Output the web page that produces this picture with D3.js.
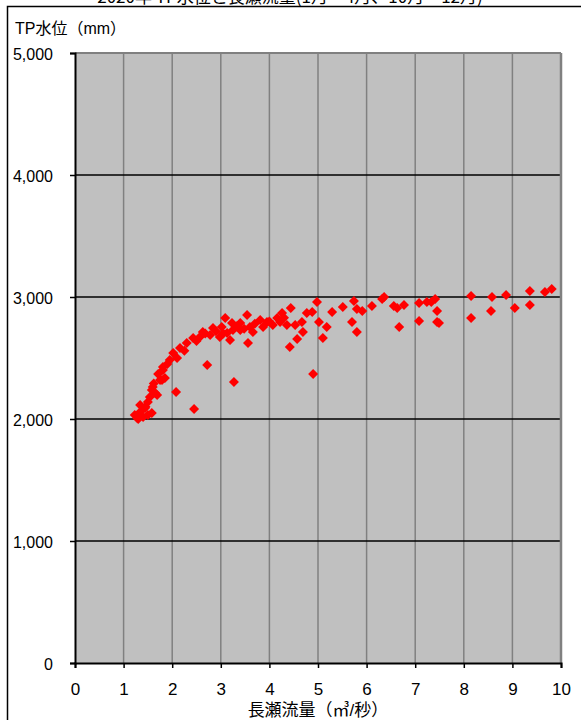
<!DOCTYPE html>
<html>
<head>
<meta charset="utf-8">
<script src="https://cdn.jsdelivr.net/npm/d3@7"></script>
<style>
  body { margin: 0; background: #fff; }
  svg { display: block; }
  text { font-family: "Liberation Sans", "Noto Sans CJK JP", sans-serif; fill: #000; }
</style>
</head>
<body>
<svg width="581" height="720"></svg>
<script>
// 長瀬流量 (m3/s) vs TP水位 (mm)
var flow = [
  1.23, 1.28, 1.30, 1.34, 1.34, 1.40, 1.44, 1.50, 1.50, 1.54, 1.58, 1.58, 1.60, 1.65, 1.69,
  1.71, 1.75, 1.79, 1.81, 1.81, 1.85, 1.95, 2.02, 2.08, 2.16, 2.30, 2.43, 2.45, 2.57, 2.63,
  2.72, 2.78, 2.84, 2.98, 3.02, 3.09, 3.13, 3.19, 3.23, 3.25, 3.27, 3.40, 3.40, 3.54, 3.56,
  3.60, 3.66, 3.81, 3.87, 3.95, 4.07, 4.16, 4.22, 4.26, 4.36, 4.42, 4.44, 4.53, 4.57, 4.67,
  4.69, 4.77, 4.88, 4.90, 4.98, 5.02, 5.10, 5.18, 5.29, 5.51, 5.70, 5.74, 5.80, 5.80, 5.91,
  6.11, 6.32, 6.36, 6.56, 6.63, 6.67, 6.77, 7.08, 7.08, 7.24, 7.33, 7.41, 7.45, 7.45, 7.49,
  8.15, 8.15, 8.56, 8.58, 8.87, 9.05, 9.36, 9.36, 9.67, 9.81,
  1.45, 1.62, 1.90, 2.10, 2.25, 2.50, 2.68, 2.90, 3.05, 3.33, 3.48, 3.70, 4.00, 4.30
];
var level = [
  2033, 2008, 2000, 2057, 2115, 2016, 2090, 2033, 2139, 2180, 2049, 2238, 2262, 2213, 2197,
  2369, 2320, 2320, 2402, 2426, 2336, 2484, 2541, 2221, 2582, 2623, 2664, 2082, 2672, 2713,
  2443, 2689, 2746, 2672, 2754, 2828, 2705, 2648, 2787, 2730, 2303, 2787, 2730, 2852, 2623,
  2754, 2713, 2811, 2754, 2795, 2770, 2828, 2795, 2869, 2770, 2590, 2910, 2770, 2656, 2795,
  2713, 2869, 2877, 2369, 2959, 2795, 2664, 2754, 2877, 2918, 2795, 2967, 2902, 2713, 2885,
  2926, 2984, 3000, 2926, 2910, 2754, 2934, 2951, 2803, 2959, 2959, 2984, 2885, 2795, 2787,
  3008, 2828, 2885, 3000, 3016, 2910, 3049, 2934, 3041, 3066,
  2100, 2290, 2450, 2500, 2560, 2640, 2700, 2720, 2700, 2760, 2740, 2780, 2800, 2830
];
var xTicks = [0, 1, 2, 3, 4, 5, 6, 7, 8, 9, 10];
var yTicks = [0, 1000, 2000, 3000, 4000, 5000];

var svg = d3.select("svg");
var plotL = 75, plotT = 53, plotR = 561, plotB = 663;

var x = d3.scaleLinear().domain([0, 10]).range([plotL, plotR]);
var y = d3.scaleLinear().domain([0, 5000]).range([plotB, plotT]);

// title (cut off at the top)
svg.append("text")
  .attr("x", 290).attr("y", 3)
  .attr("text-anchor", "middle")
  .style("font-size", "17px")
  .style("font-family", "'Noto Sans CJK JP', sans-serif")
  .text("2020年 TP水位と長瀬流量(1月～4月、10月～12月)");

// outer frame
svg.append("rect")
  .attr("x", 7.5).attr("y", 6.5)
  .attr("width", 620).attr("height", 760)
  .attr("fill", "#fff").attr("stroke", "#000").attr("stroke-width", 1.5);

// plot area
svg.append("rect")
  .attr("x", plotL).attr("y", plotT)
  .attr("width", plotR - plotL).attr("height", plotB - plotT)
  .attr("fill", "#c0c0c0");

svg.append("g").selectAll("line")
  .data(xTicks.slice(1, -1))
  .enter().append("line")
  .attr("x1", function(d) { return x(d); })
  .attr("x2", function(d) { return x(d); })
  .attr("y1", plotT).attr("y2", plotB)
  .attr("stroke", "#808080").attr("stroke-width", 1.5);

svg.append("g").selectAll("line")
  .data(yTicks.slice(1, -1))
  .enter().append("line")
  .attr("x1", plotL).attr("x2", plotR)
  .attr("y1", function(d) { return y(d); })
  .attr("y2", function(d) { return y(d); })
  .attr("stroke", "#000").attr("stroke-width", 1.5);

// border: gray top/right, black left/bottom
svg.append("line").attr("x1", plotL).attr("x2", plotR).attr("y1", plotT).attr("y2", plotT)
  .attr("stroke", "#808080").attr("stroke-width", 2);
svg.append("line").attr("x1", plotR).attr("x2", plotR).attr("y1", plotT).attr("y2", plotB)
  .attr("stroke", "#808080").attr("stroke-width", 2.5);

// points
var diamond = "M0,-5L5,0L0,5L-5,0Z";
svg.append("g").selectAll("path")
  .data(flow.map(function(v, i) { return [v, level[i]]; }))
  .enter().append("path")
  .attr("d", diamond)
  .attr("fill", "#ff0000")
  .attr("transform", function(d) { return "translate(" + x(d[0]) + "," + y(d[1]) + ")"; });

// axes
var xAxis = svg.append("g")
  .attr("transform", "translate(0," + plotB + ")")
  .call(d3.axisBottom(x).tickValues(xTicks).tickSize(5).tickPadding(15).tickFormat(d3.format("d")));
xAxis.select(".domain").attr("stroke", "#000").attr("stroke-width", 2);
xAxis.selectAll(".tick line").attr("stroke", "#000").attr("stroke-width", 1.5);
xAxis.selectAll("text").style("font-size", "17px");

var yAxis = svg.append("g")
  .attr("transform", "translate(" + plotL + ",0)")
  .call(d3.axisLeft(y).tickValues(yTicks).tickSize(5).tickPadding(17).tickFormat(d3.format(",")));
yAxis.select(".domain").attr("stroke", "#000").attr("stroke-width", 2);
yAxis.selectAll(".tick line").attr("stroke", "#000").attr("stroke-width", 1.5);
yAxis.selectAll("text").style("font-size", "16px").attr("dy", "0.4em");

// axis titles
svg.append("text")
  .attr("x", 15).attr("y", 34)
  .style("font-size", "16px")
  .text("TP水位（mm）");

svg.append("text")
  .attr("x", 318).attr("y", 716)
  .attr("text-anchor", "middle")
  .style("font-size", "17px")
  .text("長瀬流量（㎥/秒）");
</script>
</body>
</html>
